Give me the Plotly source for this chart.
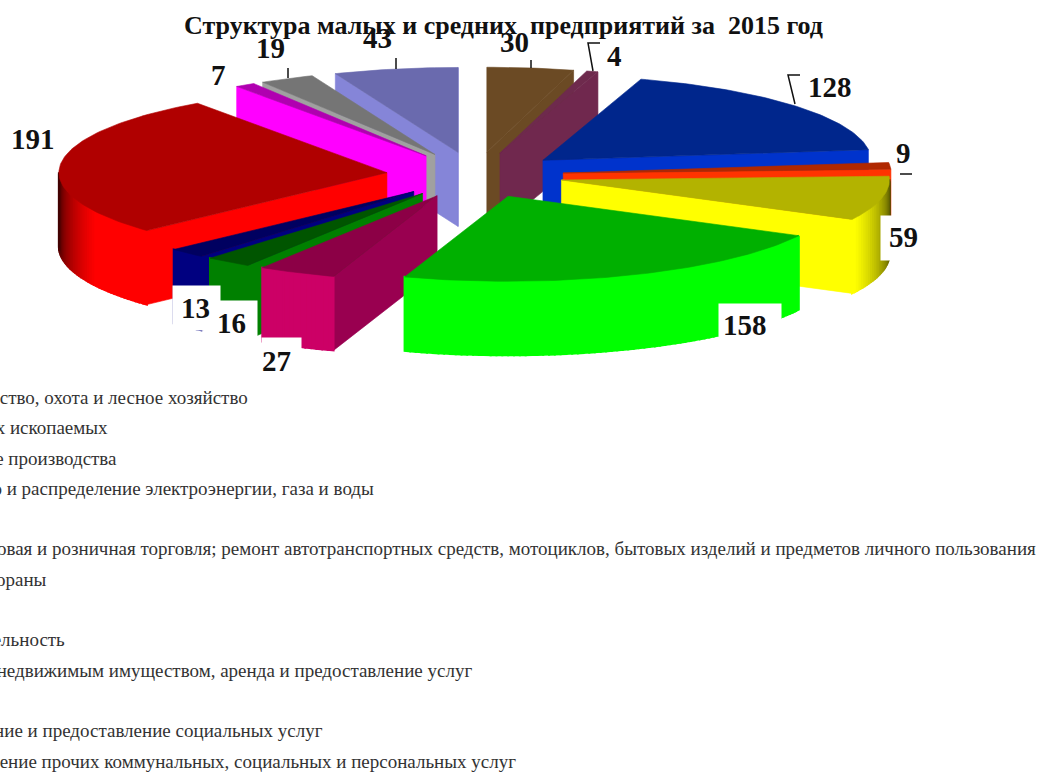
import math
import plotly.graph_objects as go

title_text = "Структура малых и средних\u00a0\u00a0предприятий за\u00a0\u00a02015 год"
# slices clockwise from twelve o'clock
values = [30, 4, 128, 9, 59, 158, 27, 16, 13, 191, 7, 19, 43]
top_colors = ["#6b4a24", "#6e2a4d", "#00268c", "#b02800", "#b3b300", "#00b000", "#8c0046",
              "#005500", "#000060", "#b00000", "#b000b0", "#757575", "#6a6aae"]
wall_colors = ["#6b4a24", "#70284e", "#0033cc", "#ff3300", "#ffff00", "#00ff00", "#990050",
               "#008000", "#000080", "#ff0000", "#ff00ff", "#a0a0a0", "#8585d8"]
arc_colors = ["#6b4a24", "#70284e", "#0033cc", "#ff3300", "#ffff00", "#00ff00", "#cc0066",
              "#008000", "#000080", "#ff0000", "#ff00ff", "#a0a0a0", "#8585d8"]
paint_order = [12, 0, 11, 1, 10, 2, 3, 9, 4, 8, 7, 6, 5]

legend_labels = [
    "Сельское хозяйство, охота и лесное хозяйство",
    "Добыча полезных ископаемых",
    "Обрабатывающие производства",
    "Производство и распределение электроэнергии, газа и воды",
    "Строительство",
    "Оптовая и розничная торговля; ремонт автотранспортных средств, мотоциклов, бытовых изделий и предметов личного пользования",
    "Гостиницы и рестораны",
    "Транспорт и связь",
    "Финансовая деятельность",
    "Операции с недвижимым имуществом, аренда и предоставление услуг",
    "Образование",
    "Здравоохранение и предоставление социальных услуг",
    "Предоставление прочих коммунальных, социальных и персональных услуг",
]
legend_right = [250, 110, 119, 376, -6, 1038, 49, -6, 67, 474, -6, 325, 518]
legend_y = [397, 427, 458, 488, 518, 548, 579, 609, 639, 670, 700, 730, 761]

label_x = [514, 614, 830, 903, 903, 745, 276, 231, 195, 33, 218, 270, 377]
label_y = [42, 56, 87, 153, 237, 325, 361, 323, 308, 139, 75, 48, 38]

CX, CY, RX, RY, EXPLODE, DEPTH = 475, 175, 328, 85, 0.27, 74
total = sum(values)


def pt(tip, a):
    return tip[0] + RX * math.sin(a), tip[1] - RY * math.cos(a)


def mix(hex_color, s):
    r, g, b = (int(hex_color[i:i + 2], 16) for i in (1, 3, 5))
    return f"rgb({int(r * s)},{int(g * s)},{int(b * s)})"


def poly(xs, ys, color, lw=0.6):
    return go.Scatter(x=xs, y=ys, mode="lines", fill="toself", fillcolor=color,
                      line=dict(color=color, width=lw), hoverinfo="skip", showlegend=False)


starts, cum = [], 0
for v in values:
    starts.append(cum / total * 2 * math.pi)
    cum += v

traces = []
for i in paint_order:
    a0 = starts[i]
    a1 = a0 + values[i] / total * 2 * math.pi
    mid = (a0 + a1) / 2
    tip = (CX + EXPLODE * RX * math.sin(mid), CY - EXPLODE * RY * math.cos(mid))
    n = max(3, int(values[i] / 2))
    angles = [a0 + (a1 - a0) * k / n for k in range(n + 1)]
    for a, vis in ((a0, math.sin(a0) < 0), (a1, math.sin(a1) > 0)):
        if vis:
            p = pt(tip, a)
            traces.append(poly([tip[0], p[0], p[0], tip[0], tip[0]],
                               [tip[1], p[1], p[1] + DEPTH, tip[1] + DEPTH, tip[1]], wall_colors[i]))
    for a, b in zip(angles[:-1], angles[1:]):
        if math.cos((a + b) / 2) < 0:
            p, q = pt(tip, a), pt(tip, b)
            s = min(1, 0.25 + 0.75 * abs(math.cos((a + b) / 2)) / 0.45)
            traces.append(poly([p[0], q[0], q[0], p[0], p[0]],
                               [p[1], q[1], q[1] + DEPTH, p[1] + DEPTH, p[1]],
                               mix(arc_colors[i], s), lw=2))
    outer = [pt(tip, a) for a in angles]
    traces.append(poly([tip[0]] + [o[0] for o in outer] + [tip[0]],
                       [tip[1]] + [o[1] for o in outer] + [tip[1]], top_colors[i]))

fig = go.Figure(traces)

serif = "Liberation Serif"
ann = [dict(x=503, y=25, text=title_text, showarrow=False,
            font=dict(family=serif, size=26, color="#111111", weight="bold"))]
# white backing boxes behind the data labels
for x, y, w, h in [(196, 308, 45, 42), (232, 322, 48, 40), (281, 358, 37, 38),
                   (750, 323, 60, 36), (900, 238, 36, 42)]:
    ann.append(dict(x=x, y=y, text=" ", width=w, height=h, bgcolor="#ffffff", showarrow=False))
for v, x, y in zip(values, label_x, label_y):
    ann.append(dict(x=x, y=y, text=str(v), showarrow=False,
                    font=dict(family=serif, size=29, color="#111111", weight="bold")))
for t, x, y in zip(legend_labels, legend_right, legend_y):
    ann.append(dict(x=x / 1038, xref="paper", y=1 - y / 772, yref="paper",
                    text=t, xanchor="right", yanchor="middle", showarrow=False,
                    font=dict(family=serif, size=19, color="#333333")))

leaders = [[(288, 68), (288, 78)], [(396, 58), (396, 69)], [(531, 60), (531, 68)],
           [(600, 43), (588, 43), (593, 71)], [(800, 75), (788, 75), (795, 104)],
           [(900, 174), (912, 174)]]
shapes = []
for L in leaders:
    path = "M" + " L".join(f"{x},{y}" for x, y in L)
    shapes.append(dict(type="path", path=path, line=dict(color="#111111", width=1.5),
                       xref="x", yref="y"))

fig.update_layout(
    width=1038, height=772, margin=dict(l=0, r=0, t=0, b=0),
    paper_bgcolor="#ffffff", plot_bgcolor="#ffffff", showlegend=False,
    xaxis=dict(range=[0, 1038], visible=False, fixedrange=True),
    yaxis=dict(range=[772, 0], visible=False, fixedrange=True),
    annotations=ann, shapes=shapes,
)
fig.write_html("out.html", config={"displayModeBar": False},
               post_script="document.body.style.margin='0';document.documentElement.style.overflow='hidden';")
